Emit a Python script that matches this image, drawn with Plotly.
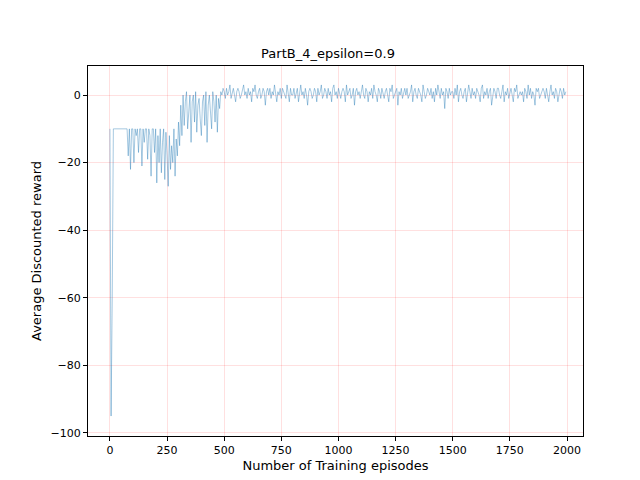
import plotly.graph_objects as go

step = 5
early_rewards = [
 -10,-95,-60,-10,-10,-10,-10,-10,-10,-10,-10,-10,-10,-10,-10,-10,-18,-10,-22,-10,
 -10,-20,-10,-12,-10,-17,-10,-10,-21,-10,-14,-10,-10,-19,-10,-12,-24,-10,-10,-17,
 -10,-26,-12,-20,-10,-23,-14,-10,-25,-11,-18,-27,-12,-22,-15,-20,-10,-24,-13,-18,
 -8,-15,-3,-12,0,-9,-2,1,-10,-4,0,-14,-2,0,-8,1,-11,-3,-1,-7,
 -12,-2,0,-9,1,-14,-3,0,-6,-10,1,-2,-8,0,-11,-1,-4,1,0,2,
]
late_rewards = [
 1,-1,2,0,1,3,-1,1,2,0,-2,1,2,1,-1,0,2,3,0,1,
 -1,2,0,1,-2,2,1,3,0,-1,1,2,-1,0,2,1,-3,1,2,0,
 2,-1,1,0,3,1,-2,1,0,2,-1,2,1,0,-1,3,1,-2,2,0,
 0,2,-1,1,2,-2,1,3,0,1,-1,2,0,-3,1,2,1,-1,0,2,
 1,-2,2,0,1,3,-1,0,2,1,-1,2,0,1,-2,2,3,0,1,-1,
 2,0,-1,1,2,1,-2,3,0,1,2,-1,0,2,-3,1,2,0,1,-1,
 1,3,0,-1,2,1,-2,1,0,2,-1,3,1,0,-2,2,1,-1,2,0,
 -1,1,2,0,-2,2,1,3,-1,0,1,2,-3,1,0,2,-1,1,2,0,
 2,-1,0,1,3,-2,1,2,0,-1,2,1,0,-2,3,1,-1,0,2,1,
 0,2,-1,1,-2,2,0,3,1,-1,2,0,1,-4,2,1,-1,2,0,1,
 1,-1,2,0,3,-2,1,2,0,-1,1,2,-2,0,3,1,-1,2,0,1,
 -1,2,1,0,-2,2,3,-1,1,0,2,-1,1,2,-3,0,2,1,-1,2,
 2,0,-1,1,3,-2,1,0,2,-1,1,2,0,-2,2,1,3,-1,0,1,
 0,1,-2,2,1,-1,3,0,2,-1,1,0,-3,2,1,2,-1,0,1,2,
 1,-1,2,0,-2,1,3,0,1,-1,2,1,-2,0,2,1,-1,2,0,1,
]
rewards = early_rewards + late_rewards
episodes = list(range(0, len(rewards) * step, step))

fig = go.Figure(go.Scatter(x=episodes, y=rewards, mode="lines",
                           line=dict(color="#1f77b4", width=0.4)))
grid = dict(showgrid=True, gridcolor="rgba(255,0,0,0.12)", gridwidth=1, zeroline=False,
            showline=True, linecolor="black", mirror=True, ticks="outside",
            tickcolor="black", ticklen=4, automargin=False, tickfont=dict(size=11))
fig.update_layout(
    width=640, height=480, plot_bgcolor="white", paper_bgcolor="white",
    margin=dict(l=80, r=65, t=58, b=52),
    font=dict(family="DejaVu Sans", size=11, color="black"),
    title=dict(text="PartB_4_epsilon=0.9", x=0.5, xanchor="center", y=0.915, font=dict(size=13)),
    xaxis=dict(title=dict(text="Number of Training episodes", standoff=4), range=[-96, 2070],
               tickvals=[0,250,500,750,1000,1250,1500,1750,2000], **grid),
    yaxis=dict(title=dict(text="Average Discounted reward", standoff=6), range=[-100.9, 8.6],
               tickvals=[0,-20,-40,-60,-80,-100], **grid),
    showlegend=False,
)
fig.write_html("out.html")
